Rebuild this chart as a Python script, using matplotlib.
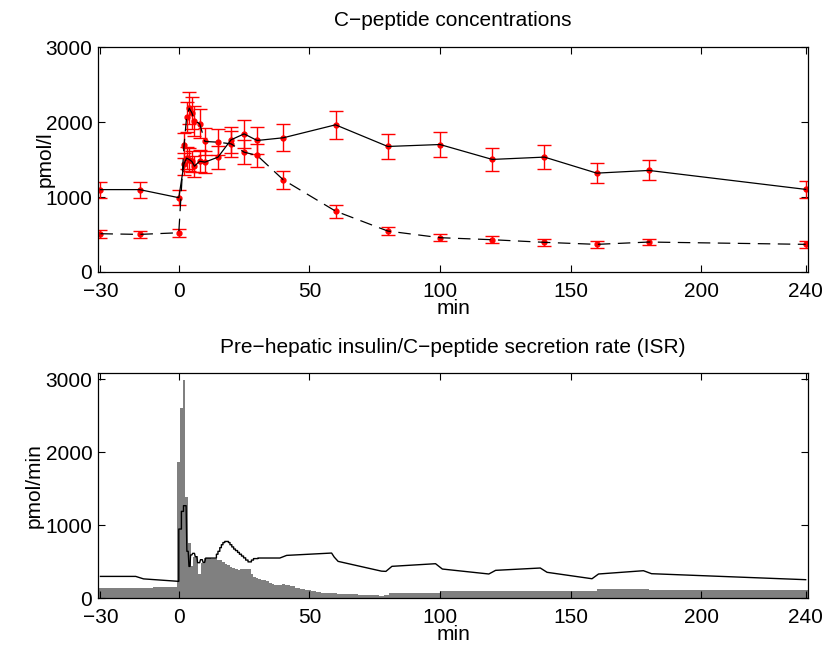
import numpy as np
import matplotlib
matplotlib.use("Agg")
import matplotlib.pyplot as plt

plt.rcParams['font.family'] = ['Liberation Sans', 'DejaVu Sans']

# ---------------- data: C-peptide concentrations ----------------
t_samp = [-30, -15, 0, 2, 3, 4, 5, 6, 8, 10, 15, 20, 25, 30, 40, 60, 80, 100, 120, 140, 160, 180, 240]
cp_total = [1100, 1100, 992, 1444, 1520, 1502, 1476, 1413, 1480, 1467, 1533, 1765, 1844, 1756,
            1792, 1965, 1676, 1702, 1503, 1534, 1320, 1356, 1103]
cp_total_err = [107, 107, 100, 145, 150, 150, 145, 140, 150, 145, 155, 175, 185, 175,
                178, 189, 171, 171, 149, 156, 129, 133, 111]
cp_second = [511, 502, 524, 1690, 2067, 2187, 2125, 2022, 1978, 1743, 1733, 1711, 1600, 1556,
             1231, 813, 547, 458, 431, 396, 369, 400, 369]
cp_second_err = [56, 44, 56, 170, 200, 215, 210, 200, 195, 175, 170, 170, 160, 155,
                 122, 87, 56, 47, 47, 44, 44, 44, 44]

# ---------------- data: ISR ----------------
# gray bars (bin edges in min, values pmol/min)
isr_edges = np.concatenate([[-31, -20, -10], np.arange(-0.5, 40.6, 1.0),
                            np.arange(42.5, 80.6, 2.0), [100, 160, 180, 241]])
isr_values = [133, 138, 144,
              1870, 2600, 2990, 1390, 760, 440, 560, 575, 330, 480,
              545, 550, 545, 540, 535, 525, 515, 495, 470, 450,
              425, 410, 392, 388, 395, 398, 398, 395, 330, 290,
              272, 262, 252, 240, 228, 210, 190, 172, 175, 185, 190,
              175, 160, 140, 123, 110, 95, 85, 75, 68, 63,
              58, 55, 52, 48, 46, 42, 38, 35, 32, 45,
              75, 100, 118, 105]

# black line
isr_line_t = [-30, -16.5, -13.5, 0, 0, 1, 1, 1.8, 1.8, 2.8, 3.1, 3.6, 3.9, 4.3, 4.5, 5.0, 5.3,
              6.0, 6.3, 6.9, 7.2, 8.0, 8.3, 9.0, 9.3, 9.9, 10.3, 13.8, 14.4, 14.4, 15.0, 15.0,
              15.7, 15.7, 16.3, 16.3, 16.9, 16.9, 17.6, 17.6, 19.0, 19.0, 19.6, 19.6, 20.3,
              20.3, 21.0, 21.0, 21.7, 21.7, 22.5, 22.5, 23.2, 23.2, 24.0, 24.0, 24.8, 24.8,
              25.6, 25.6, 26.5, 26.5, 27.8, 27.8, 28.6, 28.6, 30.3, 30.3, 38.7, 41.3, 58.5,
              59.5, 61.0, 77.6, 79.3, 81.6, 98.3, 100.9, 118.7, 121.3, 138.4, 141.0, 158.2,
              160.7, 177.9, 181.0, 240]
isr_line_v = [296, 296, 262, 228, 945, 945, 1187, 1187, 1265, 1265, 640, 640, 433, 433, 590, 590,
              612, 612, 566, 566, 484, 484, 525, 525, 488, 488, 547, 547, 547, 600, 600, 640,
              640, 690, 690, 730, 730, 760, 760, 775, 775, 760, 760, 730, 730,
              700, 700, 671, 671, 650, 650, 625, 625, 600, 600, 575, 575, 550,
              550, 520, 520, 495, 495, 520, 520, 540, 540, 548, 548, 584, 616,
              561, 502, 368, 365, 434, 470, 397, 329, 379, 411, 352, 264,
              329, 374, 333, 251]

xticks = [-30, 0, 50, 100, 150, 200, 240]
yticks = [0, 1000, 2000, 3000]

fig = plt.figure(figsize=(8.29, 6.57), dpi=100)
ax1 = fig.add_axes([0.118, 0.586, 0.857, 0.342])
ax2 = fig.add_axes([0.118, 0.0898, 0.857, 0.3432])

fs = 15

def style(ax):
    ax.set_xlim(-31, 241)
    ax.set_xticks(xticks)
    ax.set_xticklabels([str(x).replace('-', '\u2212') for x in xticks])
    ax.set_yticks(yticks)
    ax.tick_params(direction='in', length=5, width=0.8, top=True, right=True,
                   labelsize=fs)
    ax.tick_params(axis='x', pad=7.5)
    ax.tick_params(axis='y', pad=4)
    for s in ax.spines.values():
        s.set_linewidth(0.9)

# top
ax1.plot(t_samp, cp_total, color='black', lw=0.9, zorder=3)
ax1.plot(t_samp, cp_second, color='black', lw=0.9, dashes=(10, 6), zorder=3)
ax1.errorbar(t_samp, cp_total, yerr=cp_total_err, fmt='o', color='red', ms=3.5,
             elinewidth=1.0, capsize=5, capthick=1.0, zorder=2)
ax1.errorbar(t_samp, cp_second, yerr=cp_second_err, fmt='o', color='red', ms=3.5,
             elinewidth=1.0, capsize=5, capthick=1.0, zorder=2)
style(ax1)
ax1.set_ylim(0, 3000)
ax1.set_title('C\u2212peptide concentrations', fontsize=fs, pad=15)
ax1.set_xlabel('min', fontsize=fs, labelpad=-1.5)
ax1.set_ylabel('pmol/l', fontsize=fs, labelpad=-7)

# bottom
step_y = list(isr_values) + [isr_values[-1]]
ax2.fill_between(isr_edges, step_y, 0, step='post', color='#808080', lw=0, zorder=1)
ax2.plot(isr_line_t, isr_line_v, color='black', lw=1.0, zorder=3)
style(ax2)
ax2.set_ylim(0, 3090)
ax2.set_title('Pre\u2212hepatic insulin/C\u2212peptide secretion rate (ISR)', fontsize=fs, pad=14)
ax2.set_xlabel('min', fontsize=fs, labelpad=-1.5)
ax2.set_ylabel('pmol/min', fontsize=fs, labelpad=1)

fig.savefig('out.png', dpi=100)
